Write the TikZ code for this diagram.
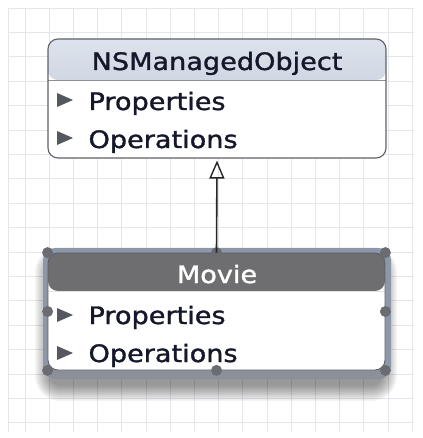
\documentclass[tikz,border=0pt]{standalone}
\usepackage{fontspec}
\setmainfont{DejaVu Sans}
\newfontfamily\uifont[FakeStretch=1.13,FakeBold=1.3]{DejaVu Sans}
\usetikzlibrary{arrows.meta,calc}
\definecolor{gridline}{HTML}{E5E6EC}
\definecolor{boxborder}{HTML}{5E6168}
\definecolor{hdrtop}{HTML}{DDE3EC}
\definecolor{hdrbot}{HTML}{B8C2D2}
\definecolor{selhdr}{HTML}{6E6E70}
\definecolor{selglow}{HTML}{8D97A8}
\definecolor{handle}{HTML}{6A6C72}
\definecolor{ink}{HTML}{15182A}
\definecolor{disclose}{HTML}{55585E}
\tikzset{
  entitybox/.style={rectangle, rounded corners=10pt, draw=boxborder, line width=1.1pt,
    fill=white, inner sep=0pt},
  hdrtext/.style={font=\uifont\fontsize{24}{24}\selectfont, text=ink, anchor=base},
  rowtext/.style={font=\uifont\fontsize{24}{24}\selectfont, text=ink, anchor=base west},
  handledot/.style={circle, fill=handle, minimum size=11pt, inner sep=0pt},
  tri/.style={fill=disclose}
}
\begin{document}
\begin{tikzpicture}[x=1pt,y=-1pt]
\useasboundingbox (0,0) rectangle (422,438);
\fill[white] (0,0) rectangle (422,438);
% background grid
\begin{scope}[gridline, line width=0.7pt]
  \foreach \i in {0,...,16} \draw ({25+24.2*\i},8) -- ({25+24.2*\i},432);
  \draw (8,8) -- (8,432);
  \foreach \j in {0,...,17} \draw (8,{8+24.4*\j}) -- (414,{8+24.4*\j});
\end{scope}

% superclass entity
\node[entitybox, minimum width=338pt, minimum height=119pt,
  path picture={\shade[top color=hdrtop, bottom color=hdrbot]
    (path picture bounding box.north west) rectangle ([yshift=-41pt]path picture bounding box.north east);
    \draw[boxborder!70, line width=0.8pt] ([yshift=-41pt]path picture bounding box.north west) -- ([yshift=-41pt]path picture bounding box.north east);}
  ] (nso) at (217,98.5) {};
\node[hdrtext] (nsot) at (217,70) {NSManagedObject};
\fill[tri] (57,93) -- (73,100) -- (57,107) -- cycle;
\node[rowtext] (nsop) at (85,110) {Properties};
\fill[tri] (57,131) -- (73,138) -- (57,145) -- cycle;
\node[rowtext] (nsoo) at (85,148) {Operations};

% soft drop shadow under the selected entity
\foreach \r in {0,1.5,...,15}
  \fill[black, opacity=0.045, rounded corners={10pt+\r}]
    ({50-\r},{262-\r}) rectangle ({382+\r},{386+\r});
% selection frame
\fill[selglow, rounded corners=12pt] (43,248) rectangle (391,379);
\fill[black!45, opacity=0.5, rounded corners=10pt] (46,366) rectangle (388,379);

% selected entity
\node[entitybox, minimum width=337pt, minimum height=117pt, draw=selglow!60!black, line width=0.8pt,
  path picture={\fill[selhdr]
    (path picture bounding box.north west) rectangle ([yshift=-38pt]path picture bounding box.north east);
    \draw[white!80!selhdr, line width=1pt] ([yshift=-38.5pt]path picture bounding box.north west) -- ([yshift=-38.5pt]path picture bounding box.north east);}
  ] (movie) at (216.5,311.5) {};
\node[hdrtext, text=white] (moviet) at (217,283) {Movie};
\fill[tri] (57,308) -- (73,315) -- (57,322) -- cycle;
\node[rowtext] (moviep) at (85,324) {Properties};
\fill[tri] (57,346) -- (73,353) -- (57,360) -- cycle;
\node[rowtext] (movieo) at (85,362) {Operations};

% selection handles
\foreach \a in {north west,north,north east,west,east,south west,south,south east}
  \node[handledot] at (movie.\a) {};

% inheritance connector
\draw[line width=1.6pt, draw=black!85, -{Triangle[open, width=15pt, length=18pt, line width=1.4pt]}]
  (movie.north) -- ([yshift=-2pt]nso.south);
\end{tikzpicture}
\end{document}
